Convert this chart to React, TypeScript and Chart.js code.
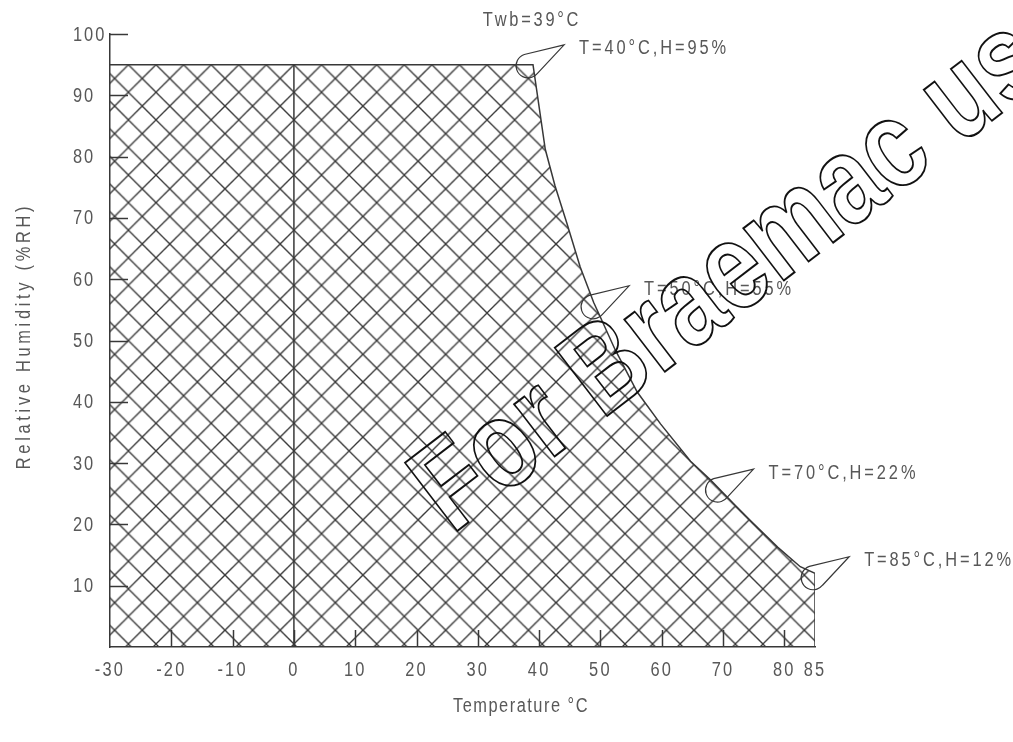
import React, { useEffect, useRef } from 'react';
import { Chart, registerables } from 'chart.js';

Chart.register(...registerables);

const FONT = '"Liberation Sans", Arial, sans-serif';
const NARROW = 0.82;
const WM_NARROW = 0.8;
const TEXT_COLOR = '#585858';
const LINE_COLOR = '#383838';

// Operating envelope boundary: temperature (°C) and relative humidity (%RH)
const boundaryTemp = [-30, 39.0, 41.0, 42.6, 44.5, 46.7, 48.9, 50.0, 52.4, 56.0, 59.8, 64.7, 67.9, 71.7, 74.5, 78.9, 82.6, 85.0, 85.0];
const boundaryRH = [95, 95, 81.2, 75.2, 69.2, 62.0, 56.2, 53.8, 48.5, 41.6, 36.4, 30.3, 27.3, 23.4, 20.6, 16.3, 13.1, 12.0, 0];

// Vertical reference line at 0 °C
const zeroLineTemp = [0, 0];
const zeroLineRH = [0, 95];

// Axis ticks
const xTickValues = [-30, -20, -10, 0, 10, 20, 30, 40, 50, 60, 70, 80, 85];
const yTickValues = [10, 20, 30, 40, 50, 60, 70, 80, 90, 100];
const xInnerTicks = [-20, -10, 0, 10, 20, 30, 40, 50, 60, 70, 80];
const yInnerTicks = [10, 20, 30, 40, 50, 60, 70, 80, 90, 100];

// Callouts
const calloutLabels = ['T=40°C,H=95%', 'T=50°C,H=55%', 'T=70°C,H=22%', 'T=85°C,H=12%'];
const calloutTemp = [38.2, 48.8, 69.1, 84.7];
const calloutRH = [94.8, 55.5, 25.6, 11.3];

const wetBulbLabel = 'Twb=39°C';
const xTitle = 'Temperature °C';
const yTitle = 'Relative Humidity (%RH)';
const watermarkText = 'For Braemac us';

function makeHatch(ctx: CanvasRenderingContext2D, ox: number, oy: number, spacing: number) {
  const tile = 28;
  const c = document.createElement('canvas');
  c.width = tile;
  c.height = tile;
  const g = c.getContext('2d')!;
  g.strokeStyle = LINE_COLOR;
  g.lineWidth = 1.35;
  for (const d of [-tile, 0, tile]) {
    g.beginPath();
    g.moveTo(d - 2, -2);
    g.lineTo(d + tile + 2, tile + 2);
    g.stroke();
    g.beginPath();
    g.moveTo(d + tile + 2, -2);
    g.lineTo(d - 2, tile + 2);
    g.stroke();
  }
  const p = ctx.createPattern(c, 'repeat')!;
  p.setTransform(new DOMMatrix().translate(ox, oy).scale(spacing / tile));
  return p;
}

function narrowText(
  ctx: CanvasRenderingContext2D,
  text: string,
  x: number,
  y: number,
  align: CanvasTextAlign,
  spacing: number,
  rotate = 0
) {
  ctx.save();
  ctx.translate(x, y);
  if (rotate) ctx.rotate(rotate);
  ctx.scale(NARROW, 1);
  (ctx as any).letterSpacing = `${spacing / NARROW}px`;
  ctx.textAlign = align;
  ctx.fillText(text, 0, 0);
  ctx.restore();
}

const decorPlugin = {
  id: 'decor',
  afterDraw(chart: any) {
    const ctx: CanvasRenderingContext2D = chart.ctx;
    const xs = chart.scales.x;
    const ys = chart.scales.y;
    const area = chart.chartArea;
    ctx.save();
    ctx.strokeStyle = LINE_COLOR;
    ctx.lineWidth = 1.5;
    // inward tick marks
    for (const v of yInnerTicks) {
      const py = Math.round(ys.getPixelForValue(v)) + 0.5;
      ctx.beginPath();
      ctx.moveTo(area.left, py);
      ctx.lineTo(area.left + 18, py);
      ctx.stroke();
    }
    for (const v of xInnerTicks) {
      const px = Math.round(xs.getPixelForValue(v)) + 0.5;
      ctx.beginPath();
      ctx.moveTo(px, area.bottom);
      ctx.lineTo(px, area.bottom - 17);
      ctx.stroke();
    }
    ctx.fillStyle = TEXT_COLOR;
    ctx.font = `20px ${FONT}`;
    ctx.textBaseline = 'middle';
    // tick labels
    for (const t of xs.ticks) {
      narrowText(ctx, String(t.value), xs.getPixelForValue(t.value), area.bottom + 23, 'center', 2.2);
    }
    for (const t of ys.ticks) {
      narrowText(ctx, String(t.value), 73, ys.getPixelForValue(t.value) + 1, 'left', 2);
    }
    // callouts
    ctx.lineWidth = 1.2;
    calloutLabels.forEach((label, i) => {
      const cx = xs.getPixelForValue(calloutTemp[i]);
      const cy = ys.getPixelForValue(calloutRH[i]);
      const r = 12;
      const a1 = Math.atan2(-12, -4);
      const a2 = Math.atan2(8, 10);
      ctx.beginPath();
      ctx.moveTo(cx + 36, cy - 21);
      ctx.lineTo(cx + r * Math.cos(a1), cy + r * Math.sin(a1));
      ctx.arc(cx, cy, r, a1, a2, true);
      ctx.closePath();
      ctx.stroke();
      narrowText(ctx, label, cx + 51, cy - 17, 'left', 2.9);
    });
    // wet bulb label
    narrowText(ctx, wetBulbLabel, 532, 20, 'center', 2.75);
    // axis titles
    narrowText(ctx, xTitle, 521, 706, 'center', 1.5);
    narrowText(ctx, yTitle, 24, 336, 'center', 3.7, -Math.PI / 2);
    // watermark
    ctx.save();
    ctx.translate(452, 535);
    ctx.rotate((-37.5 * Math.PI) / 180);
    ctx.scale(WM_NARROW, 1);
    ctx.font = `bold 125px ${FONT}`;
    (ctx as any).letterSpacing = '0px';
    ctx.textAlign = 'left';
    ctx.textBaseline = 'alphabetic';
    ctx.strokeStyle = '#111111';
    ctx.lineWidth = 1.6 / WM_NARROW;
    ctx.strokeText(watermarkText, 0, 0);
    ctx.restore();
    ctx.restore();
  },
};

export default function App() {
  const ref = useRef<HTMLCanvasElement | null>(null);
  useEffect(() => {
    document.body.style.margin = '0';
    const canvas = ref.current!;
    const chart = new Chart(canvas, {
      type: 'line',
      data: {
        datasets: [
          {
            data: boundaryTemp.map((t, i) => ({ x: t, y: boundaryRH[i] })),
            borderColor: LINE_COLOR,
            borderWidth: 1.5,
            pointRadius: 0,
            tension: 0,
            fill: 'origin',
            backgroundColor: 'transparent',
          },
          {
            data: zeroLineTemp.map((t, i) => ({ x: t, y: zeroLineRH[i] })),
            borderColor: LINE_COLOR,
            borderWidth: 1.5,
            pointRadius: 0,
            fill: false,
          },
        ],
      },
      options: {
        responsive: false,
        animation: false,
        events: [],
        layout: { padding: { left: 73, right: 198, top: 34, bottom: 0 } },
        plugins: { legend: { display: false }, tooltip: { enabled: false } },
        scales: {
          x: {
            type: 'linear',
            min: -30,
            max: 85,
            afterBuildTicks: (s: any) => {
              s.ticks = xTickValues.map((v) => ({ value: v }));
            },
            afterFit: (s: any) => {
              s.height = 95;
            },
            grid: { display: false, drawTicks: false },
            border: { display: true, color: LINE_COLOR, width: 1.5 },
            ticks: { display: false, autoSkip: false },
          },
          y: {
            type: 'linear',
            min: 0,
            max: 100,
            afterBuildTicks: (s: any) => {
              s.ticks = yTickValues.map((v) => ({ value: v }));
            },
            afterFit: (s: any) => {
              s.width = 37;
            },
            grid: { display: false, drawTicks: false },
            border: { display: true, color: LINE_COLOR, width: 1.5 },
            ticks: { display: false, autoSkip: false },
          },
        },
      },
      plugins: [decorPlugin],
    } as any);
    const xs = chart.scales.x;
    const ys = chart.scales.y;
    const spacing = ((xs.getPixelForValue(85) - xs.getPixelForValue(-30)) / 115) * 4.5;
    (chart.data.datasets[0] as any).backgroundColor = makeHatch(
      chart.ctx,
      xs.getPixelForValue(0),
      ys.getPixelForValue(95),
      spacing
    );
    chart.update();
    return () => chart.destroy();
  }, []);
  return (
    <div style={{ width: 1013, height: 742, background: '#fff' }}>
      <canvas ref={ref} width={1013} height={742} style={{ display: 'block' }} />
    </div>
  );
}
